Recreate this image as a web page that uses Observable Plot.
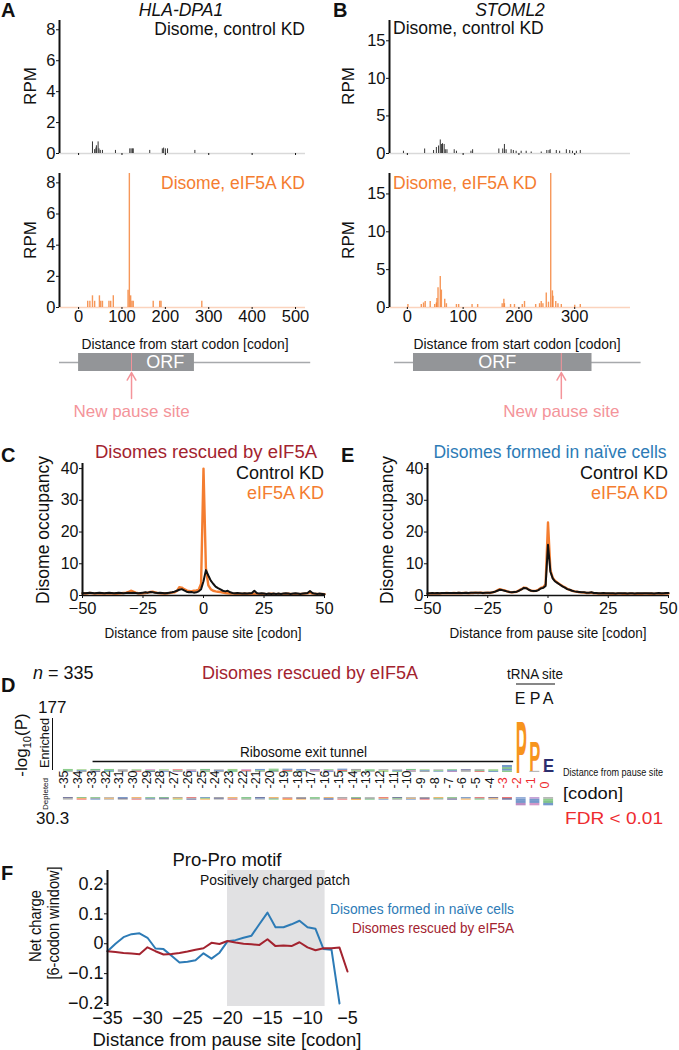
<!DOCTYPE html>
<html>
<head>
<meta charset="utf-8">
<script src="https://cdn.jsdelivr.net/npm/d3@7"></script>
<script src="https://cdn.jsdelivr.net/npm/@observablehq/plot@0.6"></script>
<style>
html,body{margin:0;padding:0;background:#fff;}
#fig{position:relative;width:679px;height:1050px;overflow:hidden;background:#fff;}
</style>
</head>
<body>
<div id="fig"></div>
<script>
// ================= DATA =================
// Panel A: HLA-DPA1 (codon position, RPM)
const hlaCtrlPos = [32,37,40,41,45,47,50,55,85,118,121,124,126,164,193,196,200,205,268];
const hlaCtrlRpm = [0.75,0.25,0.35,0.5,0.75,0.3,0.2,0.2,0.2,0.3,0.3,0.3,0.3,0.2,0.3,0.35,0.3,0.3,0.2];
const hlaKdPos = [21,26,32,37,48,51,55,70,74,80,114,117,120,123,126,172,187,190,284];
const hlaKdRpm = [0.4,0.4,0.75,0.4,0.75,0.4,0.4,0.4,0.4,0.75,1.1,8.6,0.75,0.4,0.4,0.4,0.4,0.4,0.4];
// Panel B: STOML2
const stoCtrlPos = [-7,31,47,52,56,59,61,63,66,68,71,84,88,114,117,164,171,174,177,186,190,195,204,213,222,240,250,254,256,267,273,285,291,296,303,310];
const stoCtrlRpm = [0.3,0.6,0.4,0.8,1.0,1.8,1.2,1.3,1.2,0.5,0.5,0.5,0.3,0.3,0.5,0.6,0.6,1.2,0.5,0.5,0.4,0.3,0.3,0.3,0.2,0.2,0.4,0.4,0.5,0.4,0.3,0.5,0.4,0.3,0.3,0.4];
const stoKdPos = [1,25,29,32,41,49,52,53,55,59,61,67,70,88,92,116,126,170,173,174,185,192,206,210,230,237,240,243,249,253,257,260,261,266,270,276,300,310];
const stoKdRpm = [0.4,0.4,0.6,0.8,0.8,0.4,0.6,1.2,2.6,4.1,2.3,1.1,0.5,0.4,0.4,0.4,0.4,0.5,1.1,0.5,0.4,0.4,0.4,0.8,0.4,0.5,0.8,0.5,1.9,0.7,17.7,2.2,1.5,0.8,0.5,0.4,0.3,0.4];
// ORF schematics (codons)
const orfA = {start: -44, cdsStart: 0, cdsEnd: 267, end: 535, pause: 122, label: 200};
const orfB = {start: -23, cdsStart: 11, cdsEnd: 331, end: 419, pause: 276, label: 161};

// Panels C & E: distance from pause site -50..50
const distCE = [-50,-49,-48,-47,-46,-45,-44,-43,-42,-41,-40,-39,-38,-37,-36,-35,-34,-33,-32,-31,-30,-29,-28,-27,-26,-25,-24,-23,-22,-21,-20,-19,-18,-17,-16,-15,-14,-13,-12,-11,-10,-9,-8,-7,-6,-5,-4,-3,-2,-1,0,1,2,3,4,5,6,7,8,9,10,11,12,13,14,15,16,17,18,19,20,21,22,23,24,25,26,27,28,29,30,31,32,33,34,35,36,37,38,39,40,41,42,43,44,45,46,47,48,49,50];
const cKd = [0.6,0.7,0.6,0.8,0.7,0.6,0.7,0.6,0.7,0.6, 0.7,0.6,0.7,0.6,0.5,0.6,0.7,0.8,0.9,1.1, 1.5,1.2,0.9,0.7,0.6,0.7,0.8,0.9,1.1,1.2, 1.0,0.8,0.7,0.6,0.7,0.6,0.8,0.9,1.0,1.4, 2.6,2.5,2.0,1.6,1.4,1.3,1.5,1.6,1.8,3.7, 40,
  8.5,3.2,2.0,1.5,1.3,1.2,1.1,0.9,0.8,0.7, 0.6,0.6,0.5,0.6,0.5,0.5,0.6,0.5,0.6,0.5, 0.6,0.5,0.4,0.5,0.5,0.4,0.5,0.6,0.5,0.4, 0.5,0.4,0.5,0.5,0.6,0.5,0.4,0.5,0.4,0.5, 0.5,0.6,0.7,0.9,0.6,0.5,0.5,0.4,0.5,0.4];
const cCtrl = [0.8,0.7,0.8,0.9,0.8,0.7,0.8,0.9,0.8,0.7, 0.8,0.9,0.8,0.7,0.8,0.9,0.8,0.7,0.8,0.9, 0.8,0.9,0.8,0.7,0.8,0.9,1.0,0.9,1.1,1.0, 0.9,0.8,0.9,0.8,0.7,0.8,0.9,1.0,1.2,1.5, 1.8,2.0,1.6,1.2,1.0,1.1,0.9,1.0,1.3,2.0, 4.5,
  8.0,6.3,4.7,3.7,2.8,2.3,1.9,1.5,1.3,1.5, 1.0,0.8,0.7,0.8,0.7,0.6,0.7,0.6,0.7,0.8, 1.5,0.8,0.6,0.7,0.6,0.5,0.6,0.5,0.6,0.5, 0.6,0.5,0.6,0.7,0.6,0.5,0.6,0.7,0.6,0.5, 0.6,0.7,0.8,1.4,0.8,0.6,0.5,0.6,0.5,0.4];
const eKd = [0.6,0.6,0.7,0.6,0.7,0.6,0.7,0.7,0.8,0.7, 0.7,0.8,0.7,0.8,0.7,0.8,0.8,0.7,0.8,0.8, 0.9,0.8,0.9,0.8,0.8,0.9,0.8,1.0,1.2,1.6, 2.0,1.8,1.6,1.3,1.1,1.0,1.1,1.2,1.6,2.0, 2.5,2.4,1.9,1.5,1.4,1.5,1.8,2.4,2.6,3.5, 23,
  8.0,5.5,4.6,4.0,3.5,3.0,2.6,2.1,1.8,1.5, 1.3,1.2,1.0,1.0,0.9,0.8,0.8,0.9,0.7,0.7, 0.6,0.6,0.7,0.6,0.6,0.5,0.6,0.5,0.6,0.6, 0.5,0.6,0.5,0.6,0.6,0.5,0.6,0.5,0.5,0.6, 0.6,0.5,0.6,0.5,0.6,0.6,0.5,0.6,0.7,0.6];
const eCtrl = [0.7,0.7,0.8,0.7,0.8,0.7,0.8,0.8,0.8,0.8, 0.8,0.8,0.8,0.9,0.8,0.8,0.9,0.8,0.9,0.9, 0.9,0.9,0.9,0.8,0.9,0.9,0.9,1.0,1.2,1.5, 1.8,1.7,1.5,1.3,1.1,1.0,1.1,1.2,1.5,1.9, 2.4,2.3,1.8,1.5,1.4,1.4,1.7,2.2,2.4,3.0, 16,
  7.5,5.3,4.4,3.9,3.4,2.9,2.5,2.0,1.8,1.5, 1.3,1.2,1.1,1.0,1.0,0.9,0.9,1.0,0.8,0.8, 0.7,0.7,0.8,0.7,0.7,0.7,0.7,0.6,0.7,0.7, 0.7,0.7,0.6,0.7,0.7,0.6,0.7,0.7,0.7,0.7, 0.7,0.7,0.7,0.6,0.7,0.8,0.7,0.7,0.8,0.8];

// Panel D: logo, positions -35..0 ; tokens = residue + -log10(P) height
const logoPos = [-35,-34,-33,-32,-31,-30,-29,-28,-27,-26,-25,-24,-23,-22,-21,-20,-19,-18,-17,-16,-15,-14,-13,-12,-11,-10,-9,-8,-7,-6,-5,-4,-3,-2,-1,0];
const enrichedStacks = ["S4 A3 G3","L3 R3 T3","G4 E3 A3","S4 G3 K3","A3 L3 V3","D3 L3 T3","E3 G3 Q3","R3 A3 T3","N3 S3 D3","K3 Q3 A3",
  "G4 S3 V3","L3 R3 A3","T4 S3 G3","A3 D3 Q3","K4 A3 S3","G4 L3 S4","D4 R4 G3","K4 S3 L3","A3 Q3 E3","R3 N3 S3",
  "D4 G3 K4","L4 V3 T3","A3 G3 S3","T3 Y3 L3","S3 R3 A3","G4 V3 Q3","L3 K3 T3","H3 S3 A3","N3 R3 G3","A3 V3 E3",
  "D3 G3 L3","K3 S3 T3","S5 R5 G6 K7","P177","A4 P101","D3 E44"];
const depletedStacks = ["E3 L3 A3","G3 P3 D3","S3 L3 K3","A3 P3 V3","R3 E3 L3","P3 A3 D3",
  "S3 K3 L3","G3 E3 A3","L3 P3 T3","D3 A3 E3","K3 S3 P3","L3 E3 A3",
  "P3 A3 D3","G3 S3 L3","E3 K3 A3","P3 L3 S3","A3 P4 D3","L3 E3 P3",
  "S3 G3 A3","P3 K3 E3","L3 A3 D3","P4 S3 E3","A3 L3 G3","D3 P3 K3",
  "E3 S3 L3","A3 P3 R3","L3 E3 D3","P3 G3 A3","S3 L3 E3","K3 A3 P3",
  "D3 L3 S3","E3 P3 A3","D4 E5","N8 K7 R7 H6","Q8 R7 K7 M6","K8 S7 G7 A6"];
const tunnel = {from: -33.2, to: -2.55};

// Panel F: net charge, 6-codon window
const distF = [-35,-34,-33,-32,-31,-30,-29,-28,-27,-26,-25,-24,-23,-22,-21,-20,-19,-18,-17,-16,-15,-14,-13,-12,-11,-10,-9,-8,-7,-6,-5];
const naive = [-0.025,0.0,0.022,0.032,0.035,0.02,-0.016,-0.018,-0.04,-0.063,-0.06,-0.055,-0.032,-0.05,-0.03,0.008,0.012,0.02,0.027,0.066,0.104,0.055,0.055,0.065,0.077,0.055,0.05,-0.018,-0.02,-0.2];
const rescued = [-0.025,-0.028,-0.031,-0.033,-0.035,-0.012,-0.025,-0.036,-0.034,-0.031,-0.026,-0.02,-0.015,0.003,-0.001,0.009,0.004,0.0,-0.002,-0.004,0.015,-0.008,-0.006,-0.008,0.005,-0.012,-0.022,-0.015,-0.015,-0.013,-0.093];
const patch = {from: -20, to: -7.8};

// ================= STYLE =================
const FONT = '"Liberation Sans", Arial, Helvetica, sans-serif';
const ORANGE = "#f47d30", DARKRED = "#a3232f", BLUE = "#2d7bb6", PINK = "#f4949a", GRAY = "#939598", FDRRED = "#ee2b2f";
const aaColor = {P:"#f7941d", E:"#2b2e6e", D:"#e23b3b", K:"#3b6db5", R:"#3b6db5", H:"#6e8fc9", G:"#48a85a", S:"#5cb85c",
  T:"#79bf5d", Y:"#9ac95b", C:"#c9cc4a", N:"#a05ba8", Q:"#c06bb0", A:"#9a9a9a", V:"#8c8c8c", L:"#7f7f7f", I:"#8a8a8a", M:"#b07cc6", F:"#6f6f6f", W:"#5a5a5a"};
const fig = document.getElementById("fig");
function place(node, left, top) {
  node.style.position = "absolute"; node.style.left = left + "px"; node.style.top = top + "px";
  fig.appendChild(node); return node;
}
const style = {fontFamily: FONT, fontSize: "16px", background: "transparent", overflow: "visible", color: "#111"};
const minusFmt = d => d < 0 ? "\u2212" + Math.abs(d) : String(d);

// ================= A & B =================
function rpmPanel(o) {
  const data = o.pos.map((p, i) => ({pos: p, rpm: o.rpm[i]}));
  return Plot.plot({
    width: o.width, height: o.height,
    marginLeft: o.ml, marginRight: o.mr, marginTop: o.mt, marginBottom: o.mb,
    style,
    x: {domain: o.xDomain},
    y: {domain: [0, o.yMax]},
    marks: [
      Plot.ruleY([0], {stroke: o.base, strokeWidth: 1.5}),
      Plot.ruleX(data, {x: "pos", y1: 0, y2: "rpm", stroke: o.color, strokeWidth: o.sw, strokeOpacity: o.op}),
      Plot.ruleX([o.xDomain[0]], {stroke: "#111", strokeWidth: 2}),
      Plot.axisY({ticks: o.yTicks, tickSize: 3, tickPadding: 1, fontSize: 16.5, label: null}),
      Plot.axisX({ticks: o.xTicks, tickSize: 2, tickPadding: 1, fontSize: 16.5, label: null,
        tickFormat: o.showX ? (d => String(d)) : (() => "")})
    ]
  });
}
const domA = [-44, 523], domB = [-32, 400];
place(rpmPanel({pos: hlaCtrlPos, rpm: hlaCtrlRpm, color: "#333", base: "#d9d9d9", sw: 1, op: 1, xDomain: domA, yMax: 8.6,
  yTicks: [0,2,4,6,8], xTicks: [0,100,200,300,400,500], showX: false, width: 340, height: 165, ml: 59, mr: 35, mt: 20, mb: 12}), 0, 0);
place(rpmPanel({pos: hlaKdPos, rpm: hlaKdRpm, color: ORANGE, base: "#fbd3bd", sw: 1.4, op: 0.8, xDomain: domA, yMax: 8.6,
  yTicks: [0,2,4,6,8], xTicks: [0,100,200,300,400,500], showX: true, width: 340, height: 171, ml: 59, mr: 35, mt: 13, mb: 24}), 0, 160);
place(rpmPanel({pos: stoCtrlPos, rpm: stoCtrlRpm, color: "#333", base: "#d9d9d9", sw: 1, op: 1, xDomain: domB, yMax: 17.7,
  yTicks: [0,5,10,15], xTicks: [0,100,200,300], showX: false, width: 339, height: 165, ml: 49, mr: 49, mt: 20, mb: 12}), 340, 0);
place(rpmPanel({pos: stoKdPos, rpm: stoKdRpm, color: ORANGE, base: "#fbd3bd", sw: 1.4, op: 0.8, xDomain: domB, yMax: 17.7,
  yTicks: [0,5,10,15], xTicks: [0,100,200,300], showX: true, width: 339, height: 171, ml: 49, mr: 49, mt: 13, mb: 24}), 340, 160);

function orfPanel(o, xDomain, width, ml, mr) {
  return Plot.plot({
    width, height: 80, marginLeft: ml, marginRight: mr, marginTop: 0, marginBottom: 0, style,
    x: {domain: xDomain, axis: null},
    y: {domain: [0, 80], range: [0, 80], axis: null},
    marks: [
      Plot.ruleY([o], {x1: "start", x2: "end", y: () => 17, stroke: "#a7a9ac", strokeWidth: 1.5}),
      Plot.rect([o], {x1: "cdsStart", x2: "cdsEnd", y1: () => 8, y2: () => 26, fill: GRAY}),
      Plot.ruleX([o], {x: "pause", y1: () => 8, y2: () => 26, stroke: PINK, strokeWidth: 1}),
      Plot.text([o], {x: "label", y: () => 17, text: () => "ORF", fill: "white", fontSize: 18}),
      Plot.arrow([o], {x1: "pause", x2: "pause", y1: () => 53, y2: () => 27, stroke: PINK, strokeWidth: 1.5, headLength: 9}),
      Plot.text([o], {x: "pause", y: () => 66, text: () => "New pause site", fill: PINK, fontSize: 17})
    ]
  });
}
place(orfPanel(orfA, domA, 340, 59, 35), 0, 345);
place(orfPanel(orfB, domB, 339, 49, 49), 340, 345);

// ================= C & E =================
function occPanel(orange, black, width, ml, mr) {
  const d = distCE.map((x, i) => ({x, o: orange[i], k: black[i]}));
  return Plot.plot({
    width, height: 170, marginLeft: ml, marginRight: mr, marginTop: 8, marginBottom: 30, style,
    x: {domain: [-50, 50]}, y: {domain: [0, 41.6]},
    marks: [
      Plot.line(d, {x: "x", y: "o", stroke: ORANGE, strokeWidth: 2.4}),
      Plot.line(d, {x: "x", y: "k", stroke: "#111", strokeWidth: 2}),
      Plot.ruleY([0], {stroke: "#111", strokeWidth: 1.5}),
      Plot.ruleX([-50], {stroke: "#111", strokeWidth: 2}),
      Plot.axisY({ticks: [0,10,20,30,40], tickSize: 3, tickPadding: 1, fontSize: 16, label: null}),
      Plot.axisX({ticks: [-50,-25,0,25,50], tickSize: 3, tickPadding: 4, fontSize: 16.5, label: null, tickFormat: minusFmt})
    ]
  });
}
place(occPanel(cKd, cCtrl, 340, 82, 16), 0, 455);
place(occPanel(eKd, eCtrl, 339, 87, 11), 340, 455);

// ================= D (logo) =================
function parseStacks(strs) {
  const segs = [];
  strs.forEach((s, i) => {
    const toks = s.trim().split(/\s+/).map(t => ({aa: t[0], h: +t.slice(1)}));
    toks.sort((a, b) => a.h - b.h);
    let c = 0;
    for (const t of toks) { segs.push({pos: logoPos[i], aa: t.aa, y0: c, y1: c + t.h, h: t.h, col: aaColor[t.aa]}); c += t.h; }
  });
  return segs;
}
const enr = parseStacks(enrichedStacks);
const bigLetters = enr.filter(d => d.h >= 30), smallSegs = enr.filter(d => d.h < 30);
const logoX = {domain: [-35.5, 0.5], axis: null};
const labelsBlack = logoPos.filter(p => p <= -4), labelsRed = logoPos.filter(p => p > -4);
const pE = Plot.plot({
  width: 679, height: 92, marginLeft: 61, marginRight: 124, marginTop: 18, marginBottom: 20, style,
  x: logoX, y: {domain: [0, 177], axis: null}, color: {type: "identity"},
  marks: [
    Plot.rect(smallSegs, {x1: d => d.pos - 0.36, x2: d => d.pos + 0.36, y1: "y0", y2: "y1", fill: "col", fillOpacity: 0.7}),
    Plot.text(bigLetters, {x: "pos", y: "y0", text: "aa", fill: "col", fontSize: 100, fontWeight: "bold", ariaLabel: "logo-letter"}),
    Plot.ruleY([tunnel], {x1: "from", x2: "to", y: () => 0, dy: -11, stroke: "#111", strokeWidth: 1.5}),
    Plot.text(labelsBlack, {x: d => d, text: d => String(d), frameAnchor: "bottom", dy: 16, rotate: -90, textAnchor: "start", fontSize: 12.5, fill: "#111"}),
    Plot.text(labelsRed, {x: d => d, text: d => String(d), frameAnchor: "bottom", dy: 16, rotate: -90, textAnchor: "start", fontSize: 12.5, fill: FDRRED})
  ]
});
place(pE, 0, 700);
(function stretchLetters() {
  const sx = pE.scale("x"), sy = pE.scale("y");
  let sel = d3.select(pE).selectAll('g[aria-label="logo-letter"] text');
  if (sel.empty()) sel = d3.select(pE).selectAll("text").filter(function() { return /^[PE]$/.test(this.textContent) && this.closest('g[font-size="100"]'); });
  sel.each(function(_, i) {
    const d = bigLetters[i]; if (!d) return;
    const cx = sx.apply(d.pos), yb = sy.apply(d.y0), yt = sy.apply(d.y1);
    const kx = 10 / 60, ky = (yb - yt) / 72;
    this.removeAttribute("x"); this.removeAttribute("y"); this.removeAttribute("dy");
    this.setAttribute("text-anchor", "middle");
    this.setAttribute("transform", `translate(${cx},${yb}) scale(${kx},${ky})`);
  });
})();
const dep = parseStacks(depletedStacks);
const pD = Plot.plot({
  width: 679, height: 18, marginLeft: 61, marginRight: 124, marginTop: 5, marginBottom: 4, style,
  x: logoX, y: {domain: [0, 30.3], reverse: true, axis: null}, color: {type: "identity"},
  marks: [
    Plot.rect(dep, {x1: d => d.pos - 0.36, x2: d => d.pos + 0.36, y1: "y0", y2: "y1", fill: "col", fillOpacity: 0.7})
  ]
});
place(pD, 0, 792);

// ================= F =================
const naiveData = naive.map((v, i) => ({x: distF[i], y: v}));
const rescuedData = rescued.map((v, i) => ({x: distF[i], y: v}));
place(Plot.plot({
  width: 360, height: 181, marginLeft: 107, marginRight: 13, marginTop: 15, marginBottom: 30, style,
  x: {domain: [-35, -5]}, y: {domain: [-0.21, 0.245]},
  marks: [
    Plot.rect([patch], {x1: "from", x2: "to", fill: "#e1e1e3"}),
    Plot.line(naiveData, {x: "x", y: "y", stroke: BLUE, strokeWidth: 2}),
    Plot.line(rescuedData, {x: "x", y: "y", stroke: DARKRED, strokeWidth: 2}),
    Plot.ruleX([-35], {stroke: "#111", strokeWidth: 2}),
    Plot.axisY({ticks: [-0.2,-0.1,0,0.1,0.2], tickSize: 3, tickPadding: 1, fontSize: 18, label: null,
      tickFormat: d => d === 0 ? "0" : (d < 0 ? "\u2212" : "") + Math.abs(d).toFixed(1)}),
    Plot.axisX({ticks: [-35,-30,-25,-20,-15,-10,-5], tickSize: 0, tickPadding: 5, fontSize: 18, label: null, tickFormat: minusFmt})
  ]
}), 0, 855);

// ================= TEXT OVERLAY =================
const ov = d3.create("svg").attr("width", 679).attr("height", 1050).attr("font-family", FONT)
  .style("position", "absolute").style("left", "0px").style("top", "0px").style("pointer-events", "none");
function T(x, y, s, o = {}) {
  const t = ov.append("text").attr("dy", "0.35em")
    .attr("transform", `translate(${x},${y})` + (o.rot ? ` rotate(${o.rot})` : ""))
    .attr("text-anchor", o.anchor || "start").attr("font-size", o.size || 16).attr("fill", o.fill || "#111");
  if (o.weight) t.attr("font-weight", o.weight);
  if (o.style) t.attr("font-style", o.style);
  if (o.len) t.attr("textLength", o.len).attr("lengthAdjust", "spacingAndGlyphs");
  t.text(s);
  return t;
}
// A / B
T(1, 10, "A", {size: 20, weight: "bold"});
T(181, 10, "HLA-DPA1", {anchor: "middle", size: 17.5, style: "italic"});
T(333, 10, "B", {size: 20, weight: "bold"});
T(510, 10, "STOML2", {anchor: "middle", size: 17.5, style: "italic"});
T(305, 29, "Disome, control KD", {anchor: "end", size: 17.5});
T(305, 183, "Disome, eIF5A KD", {anchor: "end", size: 17.5, fill: ORANGE});
T(393, 28, "Disome, control KD", {size: 17.5});
T(393, 183, "Disome, eIF5A KD", {size: 17.5, fill: ORANGE});
T(30, 86, "RPM", {anchor: "middle", rot: -90, size: 17});
T(30, 240, "RPM", {anchor: "middle", rot: -90, size: 17});
T(348, 86, "RPM", {anchor: "middle", rot: -90, size: 17});
T(348, 240, "RPM", {anchor: "middle", rot: -90, size: 17});
T(185, 344, "Distance from start codon [codon]", {anchor: "middle", size: 14, len: 207});
T(517, 344, "Distance from start codon [codon]", {anchor: "middle", size: 14, len: 207});
// C / E
T(1, 455, "C", {size: 20, weight: "bold"});
T(206, 452, "Disomes rescued by eIF5A", {anchor: "middle", size: 18, fill: DARKRED, len: 222});
T(324, 473, "Control KD", {anchor: "end", size: 18});
T(324, 493, "eIF5A KD", {anchor: "end", size: 18, fill: ORANGE});
T(43, 530, "Disome occupancy", {anchor: "middle", rot: -90, size: 17.5});
T(203, 633, "Distance from pause site [codon]", {anchor: "middle", size: 14, len: 197});
T(341, 455, "E", {size: 20, weight: "bold"});
T(550, 452, "Disomes formed in na\u00efve cells", {anchor: "middle", size: 18, fill: BLUE, len: 233});
T(668, 473, "Control KD", {anchor: "end", size: 18});
T(668, 493, "eIF5A KD", {anchor: "end", size: 18, fill: ORANGE});
T(387, 530, "Disome occupancy", {anchor: "middle", rot: -90, size: 17.5});
T(548, 633, "Distance from pause site [codon]", {anchor: "middle", size: 14, len: 197});
// D
T(1, 685, "D", {size: 20, weight: "bold"});
{
  const nt = ov.append("text").attr("transform", "translate(33,673)").attr("dy", "0.35em").attr("font-size", 18).attr("fill", "#111");
  nt.append("tspan").attr("font-style", "italic").text("n");
  nt.append("tspan").text(" = 335");
}
T(310, 673, "Disomes rescued by eIF5A", {anchor: "middle", size: 18, fill: DARKRED, len: 216});
T(535, 674, "tRNA site", {anchor: "middle", size: 15, len: 56});
ov.append("line").attr("x1", 516).attr("x2", 555).attr("y1", 684).attr("y2", 684).attr("stroke", "#111").attr("stroke-width", 1.2);
T(520, 698, "E", {anchor: "middle", size: 16});
T(535, 698, "P", {anchor: "middle", size: 16});
T(548, 698, "A", {anchor: "middle", size: 16});
T(38, 707, "177", {size: 17});
T(45, 743, "Enriched", {anchor: "middle", rot: -90, size: 12, len: 50});
ov.append("line").attr("x1", 52.5).attr("x2", 52.5).attr("y1", 718).attr("y2", 770).attr("stroke", "#111").attr("stroke-width", 1);
{
  const lg = ov.append("text").attr("transform", "translate(21,745) rotate(-90)").attr("text-anchor", "middle")
    .attr("dy", "0.35em").attr("font-size", 17).attr("fill", "#111");
  lg.append("tspan").text("-log");
  lg.append("tspan").attr("font-size", 11).attr("dy", 4).text("10");
  lg.append("tspan").attr("dy", -4).text("(P)");
}
T(46, 794, "Depleted", {anchor: "middle", rot: -90, size: 7, len: 32});
T(36, 818, "30.3", {size: 17});
T(303.5, 752, "Ribosome exit tunnel", {anchor: "middle", size: 14, len: 127});
T(563, 772, "Distance from pause site", {size: 10, len: 100});
T(563, 793, "[codon]", {size: 17, len: 60});
T(565, 818, "FDR < 0.01", {size: 17, fill: FDRRED, len: 98});
// F
T(1, 873, "F", {size: 20, weight: "bold"});
T(227, 860, "Pro-Pro motif", {anchor: "middle", size: 18, len: 109});
T(275, 880, "Positively charged patch", {anchor: "middle", size: 15, len: 150});
T(330, 909, "Disomes formed in na\u00efve cells", {size: 15, fill: BLUE, len: 184});
T(514, 928, "Disomes rescued by eIF5A", {anchor: "end", size: 15, fill: DARKRED, len: 162});
T(35, 926, "Net charge", {anchor: "middle", rot: -90, size: 17, len: 72});
T(53, 923, "[6-codon window]", {anchor: "middle", rot: -90, size: 17, len: 113});
T(227, 1040, "Distance from pause site [codon]", {anchor: "middle", size: 18, len: 269});
fig.appendChild(ov.node());
</script>
</body>
</html>
